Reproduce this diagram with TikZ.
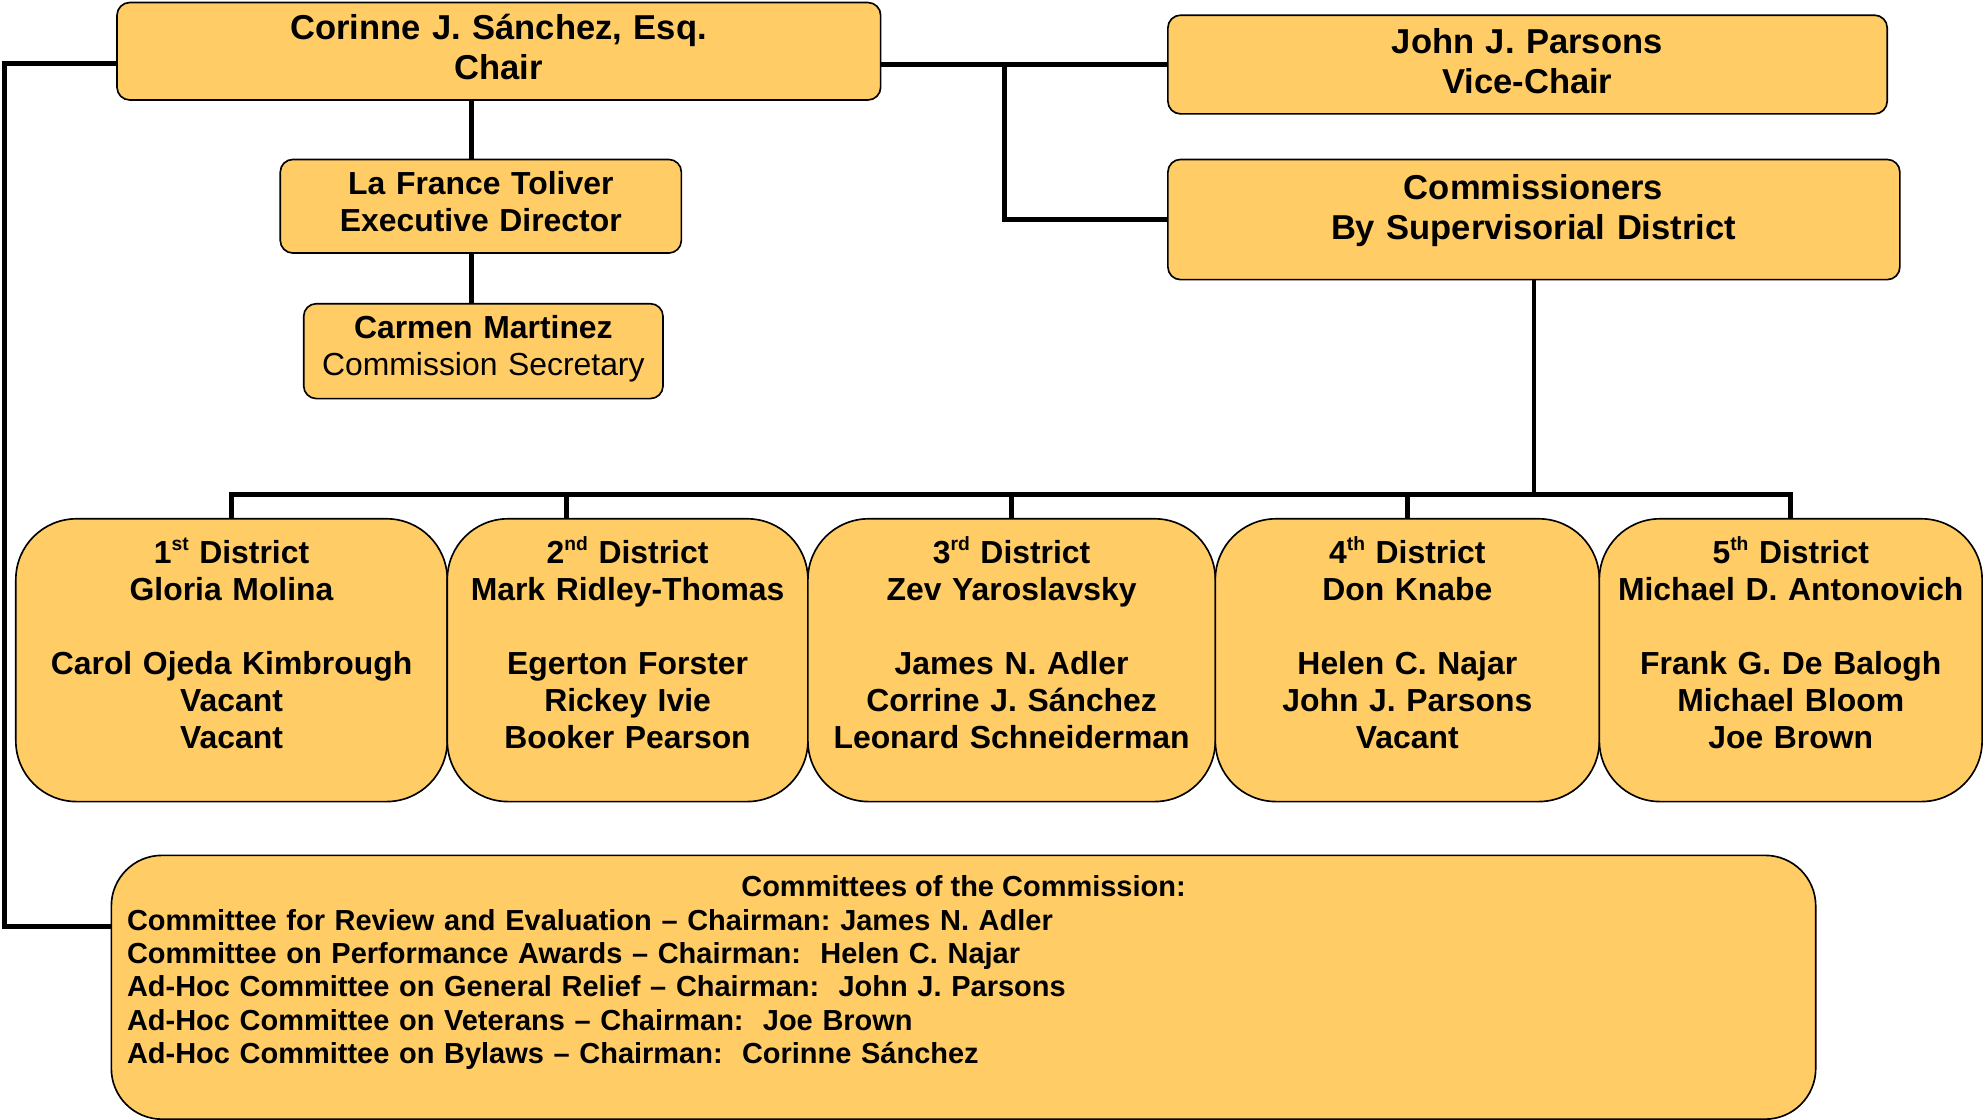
\documentclass[tikz,border=0pt]{standalone}
\usepackage{fontspec}
\setmainfont{Liberation Sans}
\usetikzlibrary{calc,backgrounds}
\definecolor{gold}{HTML}{FFCC66}
\newcommand{\ordsup}[1]{\raisebox{0.42em}{\fontsize{7.6pt}{7.6pt}\selectfont #1}}
\frenchspacing
\begin{document}
\begin{tikzpicture}[x=0.5pt,y=-0.5pt,
  box/.style={draw=black,line width=0.65pt,fill=gold,rounded corners=5pt,inner sep=0pt},
  bigbox/.style={draw=black,line width=0.65pt,fill=gold,rounded corners=24pt,inner sep=0pt},
  conn/.style={draw=black,line width=1.8pt},
  bigtxt/.style={inner sep=0pt,anchor=base,align=center,text width=290pt,font=\bfseries\fontsize{13.65pt}{15.8pt}\selectfont},
  midtxt/.style={inner sep=0pt,anchor=base,align=center,text width=160pt,font=\bfseries\fontsize{12.6pt}{14.6pt}\selectfont},
  smalltxt/.style={inner sep=0pt,font=\bfseries\fontsize{11.45pt}{13.2pt}\selectfont}
]
\useasboundingbox (0,0) rectangle (1568,885);

% boxes
\node[box,minimum width=301.75pt,minimum height=38.5pt] (chair) at (394.25,40.5) {};
\node[box,minimum width=284.25pt,minimum height=39pt] (vice) at (1207.25,51) {};
\node[box,minimum width=289.25pt,minimum height=47.5pt] (commrs) at (1212.25,173.5) {};
\node[box,minimum width=158.5pt,minimum height=37pt] (toliver) at (380,163) {};
\node[box,minimum width=142pt,minimum height=37.5pt] (martinez) at (382,277.5) {};
\node[bigbox,minimum width=170.5pt,minimum height=111.75pt] (d1) at (183,521.75) {};
\node[bigbox,minimum width=142.5pt,minimum height=111.75pt] (d2) at (496,521.75) {};
\node[bigbox,minimum width=161pt,minimum height=111.75pt] (d3) at (799.5,521.75) {};
\node[bigbox,minimum width=151.75pt,minimum height=111.75pt] (d4) at (1112.25,521.75) {};
\node[bigbox,minimum width=151.25pt,minimum height=111.75pt] (d5) at (1415.25,521.75) {};
\node[bigbox,rounded corners=20pt,minimum width=673.5pt,minimum height=104.25pt] (comm) at (761.5,780.25) {};

% texts
\node[bigtxt] (chairt) at (394,31.6) {Corinne J. Sánchez, Esq.\\Chair};
\node[bigtxt] (vicet) at (1207,42.1) {John J. Parsons\\Vice-Chair};
\node[bigtxt] (commrst) at (1212,157.3) {Commissioners\\By Supervisorial District};
\node[midtxt] (tolivert) at (380,154) {La France Toliver\\Executive Director};
\node[midtxt] (martinezt) at (382,267.4) {Carmen Martinez\\\mdseries Commission Secretary};
\node[midtxt] (d1t) at (183,445.3) {1\ordsup{st} District\\Gloria Molina\\[14.6pt]Carol Ojeda Kimbrough\\Vacant\\Vacant};
\node[midtxt] (d2t) at (496,445.3) {2\ordsup{nd} District\\Mark Ridley-Thomas\\[14.6pt]Egerton Forster\\Rickey Ivie\\Booker Pearson};
\node[midtxt] (d3t) at (799.5,445.3) {3\ordsup{rd} District\\Zev Yaroslavsky\\[14.6pt]James N. Adler\\Corrine J. Sánchez\\Leonard Schneiderman};
\node[midtxt] (d4t) at (1112.25,445.3) {4\ordsup{th} District\\Don Knabe\\[14.6pt]Helen C. Najar\\John J. Parsons\\Vacant};
\node[midtxt] (d5t) at (1415.25,445.3) {5\ordsup{th} District\\Michael D. Antonovich\\[14.6pt]Frank G. De Balogh\\Michael Bloom\\Joe Brown};
\node[smalltxt,anchor=base] (commh) at (761.5,708.7) {Committees of the Commission:};
\node[smalltxt,anchor=base west,align=left,text width=640pt] (commt) at (100,735) {Committee for Review and Evaluation – Chairman: James N. Adler\\
Committee on Performance Awards – Chairman:\ \ Helen C. Najar\\
Ad-Hoc Committee on General Relief – Chairman:\ \ John J. Parsons\\
Ad-Hoc Committee on Veterans – Chairman:\ \ Joe Brown\\
Ad-Hoc Committee on Bylaws – Chairman:\ \ Corinne Sánchez};

% connectors
\begin{scope}[on background layer]
\coordinate (vb) at (794,51);
\coordinate (busy) at (0,391);
\draw[conn] (chair.east |- vice.west) -- (vice.west);
\draw[conn] (vb) |- (commrs.west);
\draw[conn] ($(chair.south)+(-21.75,0)$) -- ($(toliver.north)+(-7.5,0)$);
\draw[conn] ($(toliver.south)+(-7.5,0)$) -- ($(martinez.north)+(-9.5,0)$);
\draw[conn] ($(chair.west)+(0,9.5)$) -- ++(-88.5,0) |- ($(comm.west)+(0,-48.25)$);
\draw[conn] (commrs.south) -- (commrs.south |- busy);
\draw[conn] (d1.north) |- (busy -| d5.north) -- (d5.north);
\draw[conn] ($(d2.north)+(-48.5,0)$) -- ++(0,-19);
\draw[conn] (d3.north) -- (d3.north |- busy);
\draw[conn] (d4.north) -- (d4.north |- busy);
\end{scope}
\end{tikzpicture}
\end{document}
